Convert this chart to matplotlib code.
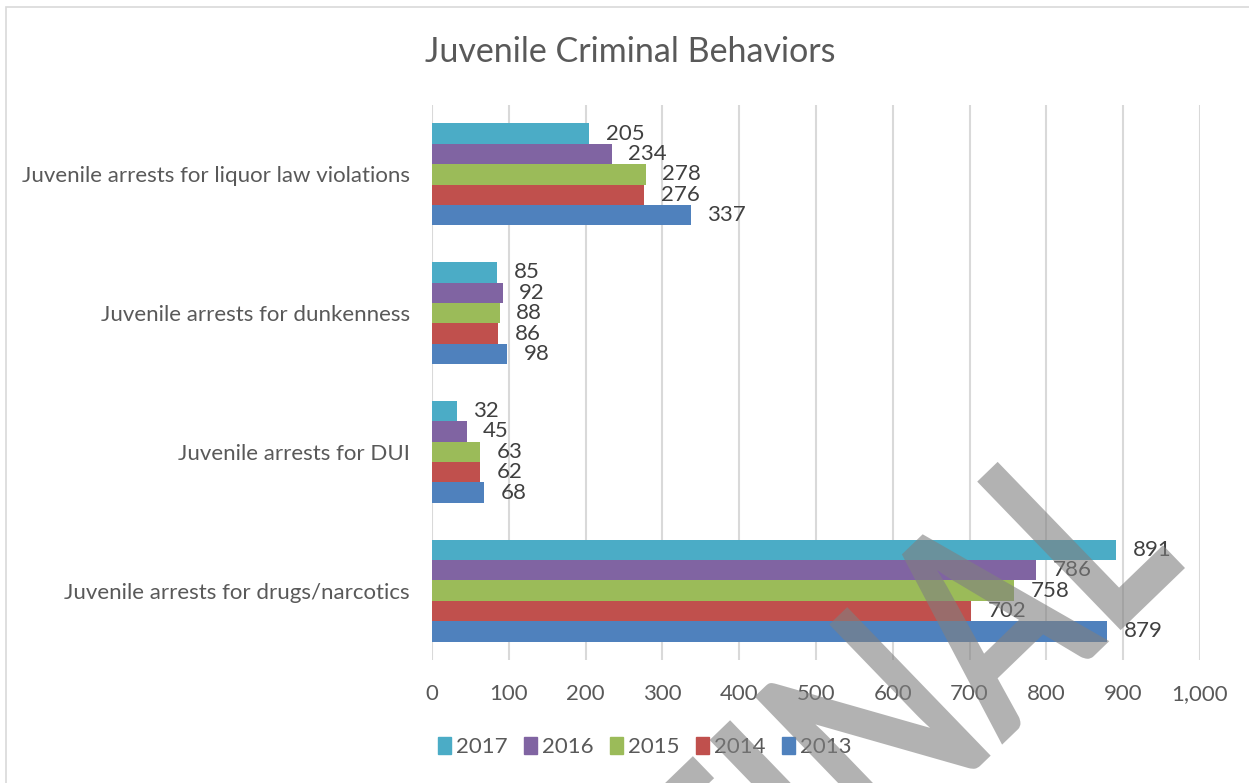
import matplotlib
matplotlib.use('Agg')
import matplotlib.pyplot as plt
from matplotlib.patches import Rectangle, Patch, PathPatch
from matplotlib.textpath import TextPath
from matplotlib.font_manager import FontProperties
from matplotlib.transforms import Affine2D
import numpy as np

categories = ['Juvenile arrests for drugs/narcotics', 'Juvenile arrests for DUI',
              'Juvenile arrests for dunkenness', 'Juvenile arrests for liquor law violations']
years = ['2013', '2014', '2015', '2016', '2017']
v2013 = [879, 68, 98, 337]
v2014 = [702, 62, 86, 276]
v2015 = [758, 63, 88, 278]
v2016 = [786, 45, 92, 234]
v2017 = [891, 32, 85, 205]
colors = ['#4F81BD', '#C0504D', '#9BBB59', '#8064A2', '#4BACC6']
xticks = [0, 100, 200, 300, 400, 500, 600, 700, 800, 900, 1000]

plt.rcParams['font.family'] = ['Lato', 'DejaVu Sans']

W, H = 1249, 783
fig = plt.figure(figsize=(W / 100, H / 100), dpi=100)
fig.patches.append(Rectangle((6 / W, -0.1), 1.2, 1 - 7 / H + 0.1, transform=fig.transFigure,
                             fill=False, edgecolor='#d9d9d9', linewidth=1.2))

ax = fig.add_axes([432 / W, 1 - 660 / H, 768 / W, 555 / H])

series = [v2013, v2014, v2015, v2016, v2017]
y = np.arange(len(categories))
bh = 0.147
for i, (vals, col, yr) in enumerate(zip(series, colors, years)):
    pos = y + (i - 2) * bh
    bars = ax.barh(pos, vals, height=bh, color=col, zorder=3)
    for b, v in zip(bars, vals):
        ax.annotate(f'{v}', (v, b.get_y() + b.get_height() / 2), xytext=(12, 0),
                    textcoords='offset points', va='center', ha='left',
                    fontsize=16, color='#404040', zorder=4)

ax.set_xlim(0, 1000)
ax.set_ylim(-0.5, 3.5)
ax.set_xticks(xticks)
ax.set_xticklabels([f'{t:,}' for t in xticks])
ax.set_yticks(y)
ax.set_yticklabels(categories)
ax.tick_params(axis='both', length=0, labelsize=16, labelcolor='#595959')
ax.tick_params(axis='x', pad=17)
ax.tick_params(axis='y', pad=16)
ax.grid(axis='x', color='#d9d9d9', linewidth=1.5, zorder=0)
for s in ax.spines.values():
    s.set_visible(False)

fig.text(630 / W, 1 - 52 / H, 'Juvenile Criminal Behaviors', ha='center', va='center',
         fontsize=24.5, color='#595959')

handles = [Patch(color=c) for c in colors[::-1]]
fig.legend(handles, years[::-1], loc='center left', bbox_to_anchor=(418 / W, 1 - 747 / H),
           ncol=5, frameon=False, fontsize=16, handlelength=0.6, handleheight=0.8,
           handletextpad=0.2, columnspacing=0.75, labelcolor='#595959')

# watermark "FINAL" (tall, slanted), drawn in pixel coords
tp = TextPath((0, 0), 'FINAL', size=240, prop=FontProperties(family='Lato', weight='bold'))
xmax = tp.get_extents().x1
wm_tr = (Affine2D().translate(-xmax, 0).scale(0.88, 1.19).rotate_deg(44)
         .translate(1185, H - 568))
fig.patches.append(PathPatch(tp, transform=wm_tr, facecolor='#808080', edgecolor='none',
                             alpha=0.6, zorder=10))

fig.savefig('out.png', dpi=100)
